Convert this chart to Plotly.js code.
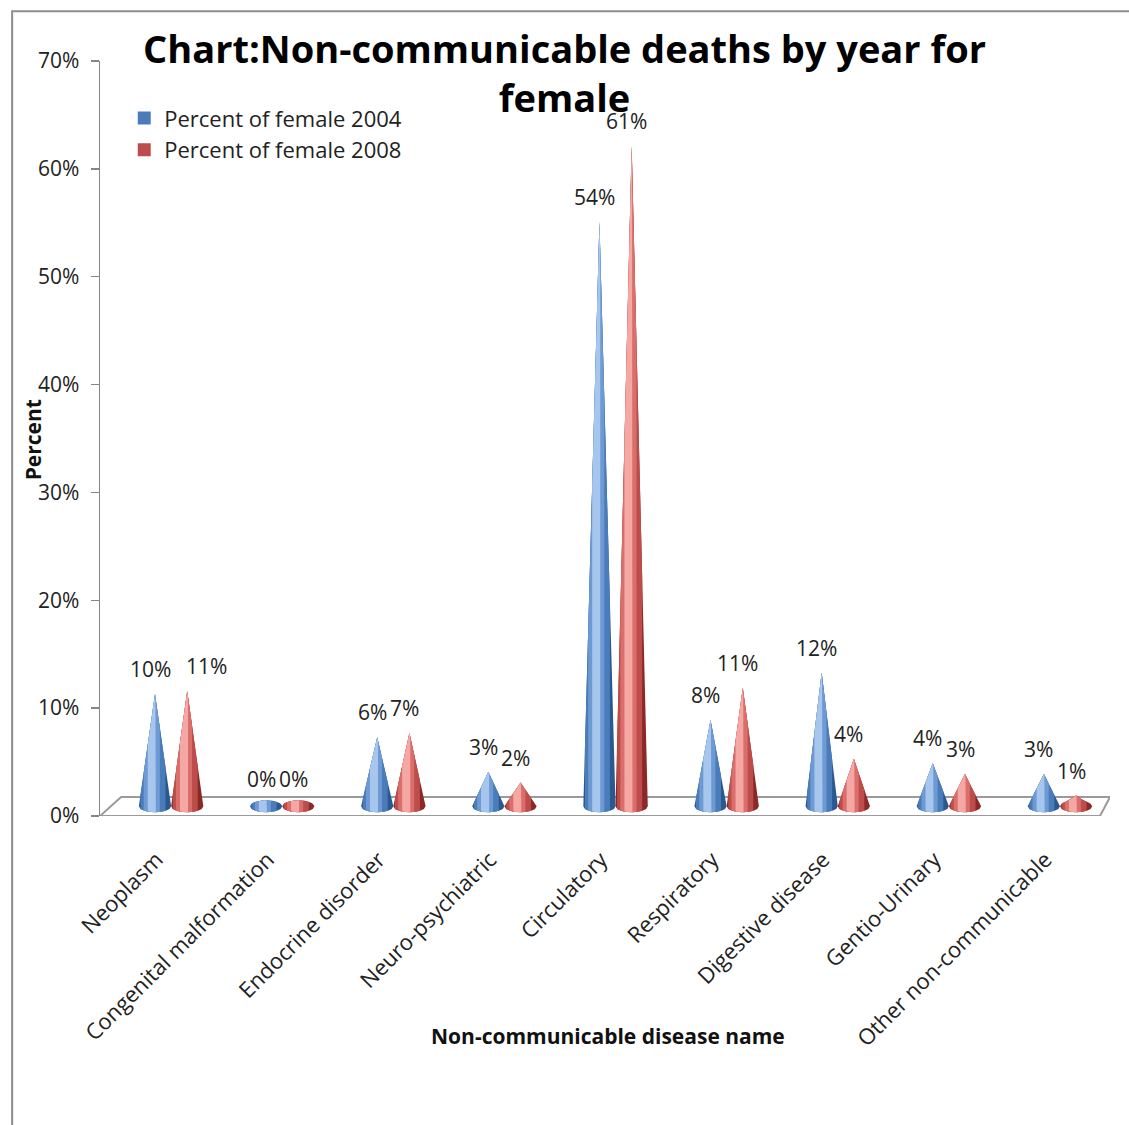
<!DOCTYPE html>
<html>
<head>
<meta charset="utf-8">
<script src="https://cdn.plot.ly/plotly-3.0.1.min.js"></script>
<style>html,body{margin:0;padding:0;background:#fff;}</style>
</head>
<body>
<div id="chart" style="width:1129px;height:1125px;"></div>
<script>
// ---- data ----
const categories = ["Neoplasm", "Congenital malformation", "Endocrine disorder", "Neuro-psychiatric",
  "Circulatory", "Respiratory", "Digestive disease", "Gentio-Urinary", "Other non-communicable"];
const pct2004 = [10.4, 0.2, 6.4, 3.2, 54.2, 8.0, 12.4, 4.0, 3.0];
const pct2008 = [10.7, 0.2, 6.8, 2.2, 61.2, 11.0, 4.4, 3.0, 1.0];
const seriesNames = ["Percent of female 2004", "Percent of female 2008"];
const yTickVals = [0, 0.1, 0.2, 0.3, 0.4, 0.5, 0.6, 0.7];

// ---- styles ----
const FONT = "Open Sans, Noto Sans, sans-serif";
const blue = {dark: "#2b5890", mid: "#4a7cba", soft: "#6d9ad3", light: "#a6c6ee"};
const red = {dark: "#8a2927", mid: "#bd4d4a", soft: "#da6e6b", light: "#f5a7a4"};
const HW = 0.145;      // half width of a cone base (category units)
const OFF = 0.145;     // offset of each series from the category centre
const DEPTH = 0.009;   // 3-D depth shift: cones stand mid-floor
const BASE_E = 0.0055; // ellipse half-height of the base
const TICK_SHIFT = -0.13; // rotated labels end slightly left of the category centre

function conePolys(vals, offset, a, b) {
  const xs = [], ys = [];
  vals.forEach((v, i) => {
    const c = i + offset;
    const top = v / 100 + DEPTH;
    const xl = c - a * HW, xr = c + b * HW;
    const fullL = c - HW, fullR = c + HW;
    const n = 20;
    for (let k = 0; k <= n; k++) {
      const x = xl + (xr - xl) * k / n;
      const u = (x - c) / HW;
      xs.push(x); ys.push(DEPTH - BASE_E * Math.sqrt(Math.max(0, 1 - u * u)));
    }
    for (let k = n; k >= 0; k--) {
      const x = xl + (xr - xl) * k / n;
      const u = (x - c) / HW;
      const arc = DEPTH + BASE_E * Math.sqrt(Math.max(0, 1 - u * u));
      const side = x >= c ? DEPTH + (top - DEPTH) * (fullR - x) / (fullR - c)
                          : DEPTH + (top - DEPTH) * (x - fullL) / (c - fullL);
      xs.push(x); ys.push(Math.max(arc, side));
      if (k > 0) {
        const xn = xl + (xr - xl) * (k - 1) / n;
        if (x > c && xn <= c) { xs.push(c); ys.push(Math.max(top, DEPTH + BASE_E)); }
      }
    }
    xs.push(null); ys.push(null);
  });
  return {xs, ys};
}

function layer(vals, offset, a, b, color) {
  const p = conePolys(vals, offset, a, b);
  return {x: p.xs, y: p.ys, type: "scatter", mode: "lines", fill: "toself",
    fillcolor: color, line: {width: 0, color: color}, hoverinfo: "skip", showlegend: false};
}

const traces = [];
[[pct2004, -OFF, blue], [pct2008, OFF, red]].forEach(([vals, off, col]) => {
  traces.push(layer(vals, off, 1, 1, col.dark));
  traces.push(layer(vals, off, 0.9, 0.65, col.mid));
  traces.push(layer(vals, off, 0.7, 0.3, col.soft));
  traces.push(layer(vals, off, 0.45, 0.05, col.light));
});

// legend entries
[[seriesNames[0], blue.mid], [seriesNames[1], red.mid]].forEach(([n, c]) => {
  traces.push({x: [null], y: [null], type: "scatter", mode: "markers", name: n,
    marker: {symbol: "square", size: 13, color: c}, showlegend: true});
});

// data labels as annotations anchored on the cone tips
const labelAnns = [];
[[pct2004, -OFF, pct2008], [pct2008, OFF, pct2004]].forEach(([vals, off, other], s) => {
  vals.forEach((v, i) => {
    const txt = Math.round(v) + "%";
    const otherTxt = Math.round(other[i]) + "%";
    const crowded = s === 1 && txt.length >= 3 && otherTxt.length >= 3 && Math.abs(v - other[i]) < 2;
    labelAnns.push({
      x: i + off, y: v / 100 + DEPTH, xref: "x", yref: "y", text: txt,
      showarrow: false, xanchor: "center", yanchor: "bottom",
      xshift: crowded ? 19 : -5, yshift: 9,
      font: {family: FONT, size: 21, color: "#222"}
    });
  });
});

const XMIN = -0.64, XMAX = 8.45;
const layout = {
  width: 1129, height: 1125,
  margin: {l: 100, r: 19, t: 61, b: 309},
  paper_bgcolor: "#fff", plot_bgcolor: "rgba(0,0,0,0)",
  font: {family: FONT, color: "#222"},
  title: {
    text: "<b>Chart:Non-communicable deaths by year for<br>female</b>",
    font: {family: FONT, size: 38, color: "#000"},
    x: 0.5, xref: "container", xanchor: "center",
    y: 0.944, yref: "container", yanchor: "top"
  },
  showlegend: true,
  legend: {x: 0.024, y: 0.952, xanchor: "left", yanchor: "top",
    bgcolor: "rgba(0,0,0,0)", font: {family: FONT, size: 22, color: "#222"},
    itemclick: false, tracegroupgap: 0},
  xaxis: {
    range: [XMIN, XMAX], tickvals: categories.map((c, i) => i + TICK_SHIFT), ticktext: categories,
    tickangle: -45, ticks: "outside", ticklen: 21, tickcolor: "rgba(0,0,0,0)",
    showline: false, showgrid: false, zeroline: false, fixedrange: true,
    tickfont: {family: FONT, size: 22, color: "#222"}
  },
  yaxis: {
    range: [0, 0.7], tickvals: yTickVals, tickformat: ".0%",
    ticks: "outside", ticklen: 8, tickcolor: "#868686", tickwidth: 1.5,
    showline: true, linecolor: "#868686", linewidth: 1.5,
    showgrid: false, zeroline: false, fixedrange: true,
    ticklabelstandoff: 7,
    tickfont: {family: FONT, size: 21, color: "#222"}
  },
  shapes: [
    {type: "path", xref: "x", yref: "y", layer: "below",
     path: `M ${XMIN},0 L ${XMAX - 0.09},0 L ${XMAX},0.0176 L ${XMIN + 0.19},0.0176 Z`,
     fillcolor: "#ffffff", line: {color: "#9a9a9a", width: 2}},
    {type: "rect", xref: "paper", yref: "paper", layer: "above",
     x0: -0.087, x1: 1.2, y0: -0.6, y1: 1.066,
     line: {color: "#8c8c8c", width: 2}, fillcolor: "rgba(0,0,0,0)"}
  ],
  annotations: labelAnns.concat([
    {text: "<b>Percent</b>", xref: "paper", yref: "paper", x: -0.066, y: 0.498,
     xanchor: "center", yanchor: "middle",
     textangle: -90, showarrow: false, font: {family: FONT, size: 21, color: "#111"}},
    {text: "<b>Non-communicable disease name</b>", xref: "paper", yref: "paper",
     x: 0.503, y: -0.291, xanchor: "center", yanchor: "middle",
     showarrow: false, font: {family: FONT, size: 21, color: "#111"}}
  ])
};

Plotly.newPlot("chart", traces, layout, {displayModeBar: false, staticPlot: true});
</script>
</body>
</html>
